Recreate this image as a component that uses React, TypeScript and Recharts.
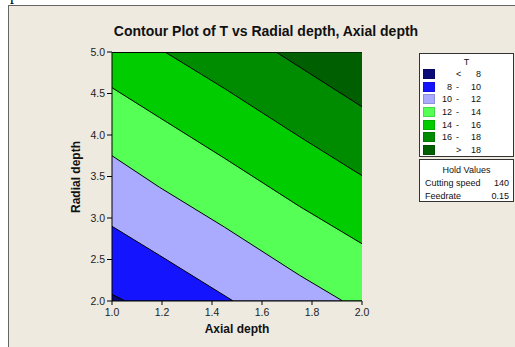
import React from 'react';
import { ComposedChart, Area, XAxis, YAxis } from 'recharts';

// contour levels of T and the fill colour of every band (lowest first)
const levels = [8, 10, 12, 14, 16, 18];
const bandColors = ['#0A0A78', '#1414FF', '#AAAAFF', '#55FF55', '#00CC00', '#008C00', '#005F00'];

// contour lines, [axial depth, radial depth]
const contour8 = [[1.0, 2.08], [1.052, 2.0]];
const contour10 = [[1.0, 2.9], [1.19, 2.55], [1.485, 2.0]];
const contour12 = [[1.0, 3.75], [1.19, 3.37], [1.45, 2.89], [1.75, 2.31], [1.923, 2.0]];
const contour14 = [[1.0, 4.57], [1.19, 4.21], [1.45, 3.72], [1.75, 3.14], [2.0, 2.69]];
const contour16 = [[1.212, 5.0], [1.45, 4.56], [1.75, 3.98], [2.0, 3.51]];
const contour18 = [[1.656, 5.0], [1.75, 4.82], [2.0, 4.34]];
const contours = [contour8, contour10, contour12, contour14, contour16, contour18];

const xTicks = [1.0, 1.2, 1.4, 1.6, 1.8, 2.0];
const yTicks = [2.0, 2.5, 3.0, 3.5, 4.0, 4.5, 5.0];

const holdNames = ['Cutting speed', 'Feedrate'];
const holdValues = ['140', '0.15'];

const X0 = 1, X1 = 2, Y0 = 2, Y1 = 5;

// region above a contour line, closed along the plot border
function regionAbove(line: number[][]) {
    const pts = line.map(([x, y]) => ({ x, range: [y, Y1] }));
    if (line[0][0] > X0) pts.unshift({ x: X0, range: [Y1, Y1] });
    if (line[line.length - 1][0] < X1) pts.push({ x: X1, range: [Y0, Y1] });
    return pts;
}

const baseRegion = [{ x: X0, range: [Y0, Y1] }, { x: X1, range: [Y0, Y1] }];

const font = '"Liberation Sans", Arial, sans-serif';
const tickStyle = { fill: '#222', fontSize: 10.5, fontFamily: font };

function legendRow(i: number) {
    let lo = '', mid = '', hi = '';
    if (i === 0) { mid = '<'; hi = String(levels[0]); }
    else if (i === levels.length) { mid = '>'; hi = String(levels[levels.length - 1]); }
    else { lo = String(levels[i - 1]); mid = '-'; hi = String(levels[i]); }
    const top = 15 + i * 12.67;
    return (
        <div key={i} style={{ position: 'absolute', left: 0, top, width: 95, height: 10 }}>
            <div style={{ position: 'absolute', left: 3, top: 0, width: 12, height: 10, background: bandColors[i], boxShadow: 'inset 0 0 0 1px rgba(0,0,0,0.15)' }} />
            <span style={{ position: 'absolute', right: 63, top: -1, lineHeight: '12px' }}>{lo}</span>
            <span style={{ position: 'absolute', left: 36, top: -1, lineHeight: '12px' }}>{mid}</span>
            <span style={{ position: 'absolute', right: 34, top: -1, lineHeight: '12px' }}>{hi}</span>
        </div>
    );
}

export default function App() {
    const bandLegend = bandColors.map((_, i) => legendRow(i));
    return (
        <div style={{ position: 'absolute', left: 0, top: 0, width: 515, height: 347, background: '#fff', overflow: 'hidden', fontFamily: font }}>
            <div style={{ position: 'absolute', left: 10, top: -13, fontSize: 16, lineHeight: '16px', fontFamily: '"Liberation Serif", serif' }}>p</div>
            <div style={{ position: 'absolute', left: 8, top: 5, width: 507, height: 342, boxSizing: 'border-box', background: '#EEEAE0', borderTop: '1px solid #666', borderLeft: '1px solid #666' }} />

            <div style={{ position: 'absolute', left: 66, top: 23, width: 400, textAlign: 'center', fontSize: 14, lineHeight: '16px', fontWeight: 'bold', color: '#111' }}>
                Contour Plot of T vs Radial depth, Axial depth
            </div>

            <div style={{ position: 'absolute', left: 0, top: 0 }}>
                <ComposedChart width={515} height={347} margin={{ top: 52, right: 153, bottom: 0, left: 0 }}>
                    <XAxis
                        type="number"
                        dataKey="x"
                        domain={[X0, X1]}
                        ticks={xTicks}
                        interval={0}
                        allowDataOverflow
                        height={46}
                        tickSize={4}
                        tickMargin={4}
                        tickFormatter={(v: number) => v.toFixed(1)}
                        tick={tickStyle}
                        axisLine={{ stroke: '#000' }}
                        tickLine={{ stroke: '#000' }}
                    />
                    <XAxis xAxisId="top" orientation="top" type="number" domain={[X0, X1]} height={0} tick={false} tickLine={false} axisLine={{ stroke: '#000' }} />
                    <YAxis
                        type="number"
                        domain={[Y0, Y1]}
                        ticks={yTicks}
                        interval={0}
                        allowDataOverflow
                        width={112}
                        tickSize={5}
                        tickMargin={2}
                        tickFormatter={(v: number) => v.toFixed(1)}
                        tick={tickStyle}
                        axisLine={{ stroke: '#000' }}
                        tickLine={{ stroke: '#000' }}
                    />
                    <YAxis yAxisId="right" orientation="right" type="number" domain={[Y0, Y1]} width={0} tick={false} tickLine={false} axisLine={{ stroke: '#000' }} />
                    <Area
                        data={baseRegion}
                        dataKey="range"
                        type="linear"
                        fill={bandColors[0]}
                        fillOpacity={1}
                        stroke="none"
                        dot={false}
                        activeDot={false}
                        isAnimationActive={false}
                    />
                    {contours.map((line, i) => (
                        <Area
                            key={levels[i]}
                            data={regionAbove(line)}
                            dataKey="range"
                            type="linear"
                            fill={bandColors[i + 1]}
                            fillOpacity={1}
                            stroke="#000"
                            strokeWidth={1}
                            dot={false}
                            activeDot={false}
                            isAnimationActive={false}
                        />
                    ))}
                </ComposedChart>
            </div>

            <div style={{ position: 'absolute', left: 203, top: 322, width: 68, textAlign: 'center', fontSize: 12, lineHeight: '14px', fontWeight: 'bold', color: '#111' }}>
                Axial depth
            </div>
            <div style={{ position: 'absolute', left: 26, top: 170, width: 100, height: 14, textAlign: 'center', fontSize: 12, lineHeight: '14px', fontWeight: 'bold', color: '#111', transform: 'rotate(-90deg)' }}>
                Radial depth
            </div>

            <div style={{ position: 'absolute', left: 419, top: 53, width: 95, height: 104, boxSizing: 'border-box', background: '#fff', border: '1px solid #333', fontSize: 9, color: '#111' }}>
                <div style={{ position: 'absolute', left: 0, top: 2, width: 93, textAlign: 'center', lineHeight: '12px' }}>T</div>
                {bandLegend}
            </div>
            <div style={{ position: 'absolute', left: 419, top: 159, width: 95, height: 43, boxSizing: 'border-box', background: '#fff', border: '1px solid #333', fontSize: 9, color: '#111' }}>
                <div style={{ position: 'absolute', left: 0, top: 4, width: 93, textAlign: 'center', lineHeight: '12px' }}>Hold Values</div>
                {holdNames.map((name, i) => (
                    <div key={name} style={{ position: 'absolute', left: 5, top: 17 + i * 13, width: 84, lineHeight: '12px' }}>
                        <span>{name}</span>
                        <span style={{ position: 'absolute', right: 0 }}>{holdValues[i]}</span>
                    </div>
                ))}
            </div>
        </div>
    );
}
